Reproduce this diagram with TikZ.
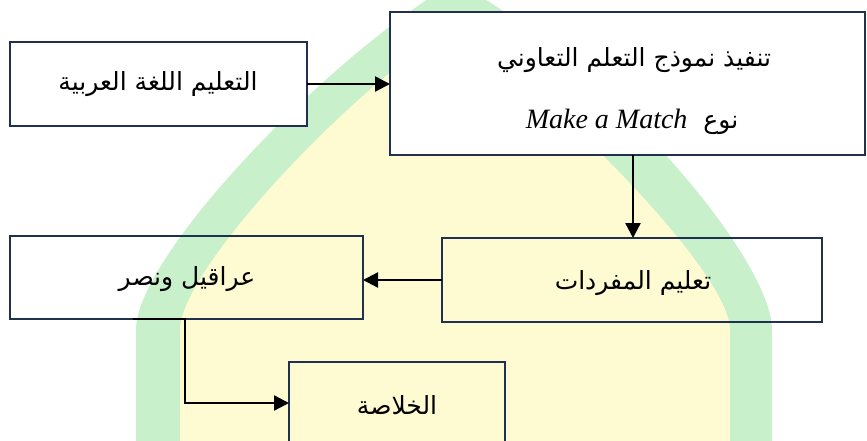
\documentclass[tikz,border=0pt]{standalone}
\usepackage{fontspec}
\setmainfont{Liberation Serif}
\newfontfamily\arabicfont[Script=Arabic]{DejaVu Sans}
\TeXXeTstate=1
\usetikzlibrary{arrows.meta}
\definecolor{boxline}{HTML}{1F3050}
\definecolor{wmgreen}{HTML}{C8F0CA}
\definecolor{wmyellow}{HTML}{FEFBD2}
\tikzset{
  box/.style={draw=boxline, line width=2.6pt, inner sep=0pt, outer sep=0pt},
  whitebox/.style={box, fill=white},
  link/.style={draw=black, line width=2.4pt, -{Triangle[length=15pt,width=15pt]}},
  artext/.style={font=\arabicfont\fontsize{25}{30}\selectfont, inner sep=0pt},
}
\begin{document}
\begin{tikzpicture}[x=1pt,y=-1pt]
\useasboundingbox (0,0) rectangle (867,441);
\begin{scope}
\clip (0,0) rectangle (867,441);
% watermark
\fill[wmgreen] (136,470) -- (136,330) .. controls (136,255) and (330,55) .. (455,-18)
  .. controls (595,55) and (772,255) .. (772,330) -- (772,470) -- cycle;
\fill[wmyellow] (180,470) -- (180,330) .. controls (180,270) and (350,90) .. (455,25)
  .. controls (545,90) and (730,270) .. (730,330) -- (730,470) -- cycle;
% boxes
\node[whitebox, minimum width=297pt, minimum height=84pt] (b1) at (158.5,84) {};
\node[whitebox, minimum width=475pt, minimum height=143pt] (b2) at (627.5,83.5) {};
\node[box, minimum width=380pt, minimum height=84pt] (b3) at (632,280) {};
\node[box, minimum width=353pt, minimum height=83pt] (b4) at (186.5,277.5) {};
\node[box, minimum width=216pt, minimum height=98pt] (b5) at (397,411) {};
% texts
\node[artext] (t1) at (158,84) {\beginR التعليم اللغة العربية\endR};
\node[artext] (t2a) at (634,60) {\beginR تنفيذ نموذج التعلم التعاوني\endR};
\node[artext] (t2b) at (632,122) {\beginR نوع\hspace{16pt}\beginL{\fontsize{28}{32}\selectfont\rmfamily\itshape Make a Match}\endL\endR};
\node[artext] (t3) at (633,283) {\beginR تعليم المفردات\endR};
\node[artext] (t4) at (187,279) {\beginR عراقيل ونصر\endR};
\node[artext] (t5) at (397,405) {\beginR الخلاصة\endR};
% connectors
\draw[link] (b1.east) -- (b1.east -| b2.west);
\draw[link] (t3.north |- b2.south) -- (t3.north |- b3.north);
\draw[link] (b3.west) -- (b3.west -| b4.east);
\coordinate (k1) at (133,319);
\coordinate (k2) at (185,403);
\draw[link] (k1) -- (k1 -| k2) -- (k2) -- (k2 -| b5.west);
\end{scope}
\end{tikzpicture}
\end{document}
